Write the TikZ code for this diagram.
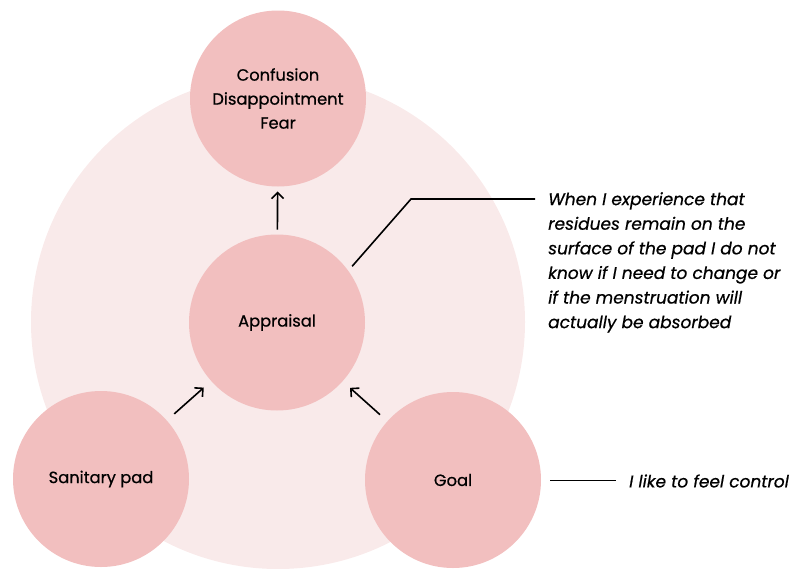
\documentclass[tikz,border=0pt]{standalone}
\usepackage{fontspec}
\setmainfont{Poppins}[UprightFeatures={FakeBold=0.6}, ItalicFeatures={FakeBold=0.6}]
\usetikzlibrary{arrows.meta}
\definecolor{halo}{HTML}{F9EAEA}
\definecolor{bubble}{HTML}{F2BFBF}
\begin{document}
\begin{tikzpicture}[x=1pt,y=-1pt,
  bubble/.style={circle, fill=bubble, minimum size=176pt, inner sep=0pt, outer sep=0pt,
    align=center, font=\fontsize{16.3}{24}\selectfont},
  link/.style={line width=1.6pt, -{Straight Barb[length=6pt,width=12pt,line width=1.6pt]}},
  callout/.style={line width=1.6pt},
  note/.style={font=\fontsize{17}{24.6}\selectfont\itshape, align=left, inner sep=0pt}]
\useasboundingbox (0,0) rectangle (793,568);
\fill[halo] (278,322) circle[radius=247];

\node[bubble] (emo) at (278,98.5) {Confusion\\Disappointment\\Fear};
\node[bubble] (appr) at (277,322.5) {Appraisal};
\node[bubble] (pad) at (101,479) {Sanitary pad};
\node[bubble] (goal) at (453,480) {Goal};

\draw[link, shorten <=5pt, shorten >=5pt] (appr) -- (emo);
\draw[link, shorten <=10pt, shorten >=10pt] (pad) -- (appr);
\draw[link, shorten <=10pt, shorten >=10pt] (goal) -- (appr);

\node[note, anchor=north west] (why) at (548,192)
  {When I experience that\\residues remain on the\\surface of the pad I do not\\know if I need to change or\\if the menstruation will\\actually be absorbed};
\node[note, anchor=west] (ctrl) at (629,481) {I like to feel control};

\coordinate (bend) at (411,199);
\coordinate (tip) at (535,199);
\draw[callout, shorten <=6pt] (appr.36) -- (bend) -- (tip);
\coordinate (gl) at (550,480.5);
\coordinate (gr) at (616,480.5);
\draw[callout] (gl) -- (gr);
\end{tikzpicture}
\end{document}
